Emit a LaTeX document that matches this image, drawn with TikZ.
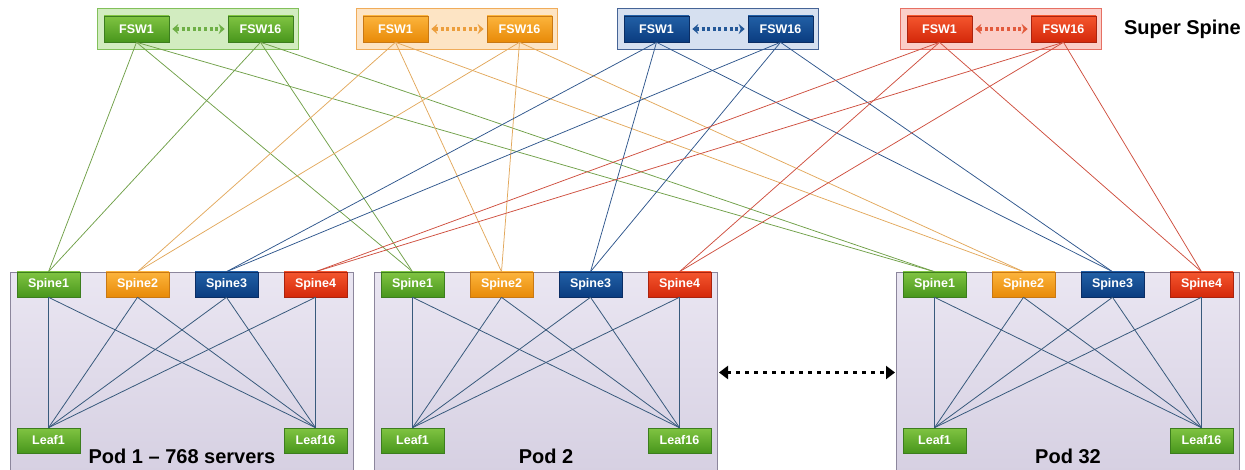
\documentclass[tikz,border=0pt]{standalone}
\usepackage{fontspec}
\setmainfont{Liberation Sans}
\usetikzlibrary{arrows.meta,shadows}
% box colours: T top, B bottom, D border, L line, G group fill, H group border
\definecolor{gT}{RGB}{128,196,66}\definecolor{gB}{RGB}{72,150,28}\definecolor{gD}{RGB}{60,125,30}
\definecolor{oT}{RGB}{252,180,60}\definecolor{oB}{RGB}{232,138,8}\definecolor{oD}{RGB}{200,120,20}
\definecolor{bT}{RGB}{34,96,166}\definecolor{bB}{RGB}{10,60,128}\definecolor{bD}{RGB}{10,45,100}
\definecolor{rT}{RGB}{244,86,46}\definecolor{rB}{RGB}{212,40,10}\definecolor{rD}{RGB}{170,35,15}
\definecolor{gL}{RGB}{112,160,72}\definecolor{oL}{RGB}{226,168,92}\definecolor{bL}{RGB}{46,86,140}\definecolor{rL}{RGB}{206,78,62}
\definecolor{gG}{RGB}{210,236,192}\definecolor{oG}{RGB}{253,228,196}\definecolor{bG}{RGB}{214,224,240}\definecolor{rG}{RGB}{251,206,200}
\definecolor{gH}{RGB}{130,192,90}\definecolor{oH}{RGB}{240,172,90}\definecolor{bH}{RGB}{70,100,150}\definecolor{rH}{RGB}{230,112,100}
\definecolor{gA}{RGB}{110,175,70}\definecolor{oA}{RGB}{236,158,60}\definecolor{bA}{RGB}{36,88,152}\definecolor{rA}{RGB}{226,90,60}
\definecolor{podT}{RGB}{234,230,242}\definecolor{podB}{RGB}{214,208,226}\definecolor{podD}{RGB}{140,134,156}
\definecolor{podL}{RGB}{56,90,124}
\tikzset{
  sw/.style={draw=#1D, line width=0.6pt, top color=#1T, bottom color=#1B,
    minimum width=63pt, minimum height=25pt, inner sep=0pt, text=white,
    font=\bfseries\fontsize{12.5}{12.5}\selectfont,
    drop shadow={opacity=0.3,shadow xshift=1pt,shadow yshift=-1pt}},
  fsw/.style={sw=#1, minimum width=65pt, minimum height=26pt},
  grp/.style={draw=#1H, line width=1pt, fill=#1G, minimum width=201pt, minimum height=41pt,
    inner sep=0pt, anchor=north west},
  podbox/.style={draw=podD, line width=1pt, top color=podT, bottom color=podB,
    minimum width=343pt, minimum height=200pt, inner sep=0pt, anchor=north west},
  podlab/.style={font=\bfseries\fontsize{20}{20}\selectfont, anchor=base, inner sep=0pt},
  podline/.style={draw=podL, line width=0.8pt},
  upline/.style={draw=#1L, line width=0.75pt},
  fswarrow/.style={draw=#1A, line width=3.2pt, dash pattern=on 3pt off 2.6pt,
    {Stealth[length=6pt,width=10pt]}-{Stealth[length=6pt,width=10pt]}, shorten <=3pt, shorten >=3pt},
  podarrow/.style={draw=black, line width=3.4pt, dash pattern=on 4pt off 5pt,
    {Triangle[length=9pt,width=13pt]}-{Triangle[length=9pt,width=13pt]}, shorten <=1pt, shorten >=1pt},
}
\begin{document}
\begin{tikzpicture}[x=1pt,y=-1pt]
\useasboundingbox (0,0) rectangle (1245,470);
% pods
\foreach \p/\L/\lab in {1/10/{Pod 1 – 768 servers},2/374/{Pod 2},3/896/{Pod 32}}{
  \node[podbox] (pod\p) at (\L,272) {};
  \node[sw=g] (p\p-s1) at (\L+38.5,284.5) {Spine1};
  \node[sw=o] (p\p-s2) at (\L+127.5,284.5) {Spine2};
  \node[sw=b] (p\p-s3) at (\L+216.5,284.5) {Spine3};
  \node[sw=r] (p\p-s4) at (\L+305.5,284.5) {Spine4};
  \node[sw=g] (p\p-l1) at (\L+38.5,440.5) {Leaf1};
  \node[sw=g] (p\p-l16) at (\L+305.5,440.5) {Leaf16};
  \node[podlab] (lab\p) at (\L+172,463) {\lab};
  \foreach \s in {1,...,4}{
    \draw[podline] (p\p-s\s.south) -- (p\p-l1.north);
    \draw[podline] (p\p-s\s.south) -- (p\p-l16.north);
  }
}
\draw[podarrow] (pod2.east) -- (pod3.west);
% super spine groups
\foreach \g/\L/\c in {1/97/g,2/356/o,3/617/b,4/900/r}{
  \node[grp=\c] (grp\g) at (\L,8) {};
  \node[fsw=\c] (fa\g) at (\L+39.5,29) {FSW1};
  \node[fsw=\c] (fb\g) at (\L+163.5,29) {FSW16};
  \draw[fswarrow=\c] (fa\g.east) -- (fb\g.west);
}
\node[font=\bfseries\fontsize{20}{20}\selectfont, anchor=east, inner sep=0pt] (ss) at (1241,29) {Super Spine};
% uplinks
\foreach \g/\c in {1/g,2/o,3/b,4/r}{
  \foreach \p in {1,2,3}{
    \draw[upline=\c] (fa\g.south) -- (p\p-s\g.north);
    \draw[upline=\c] (fb\g.south) -- (p\p-s\g.north);
  }
}
\end{tikzpicture}
\end{document}
